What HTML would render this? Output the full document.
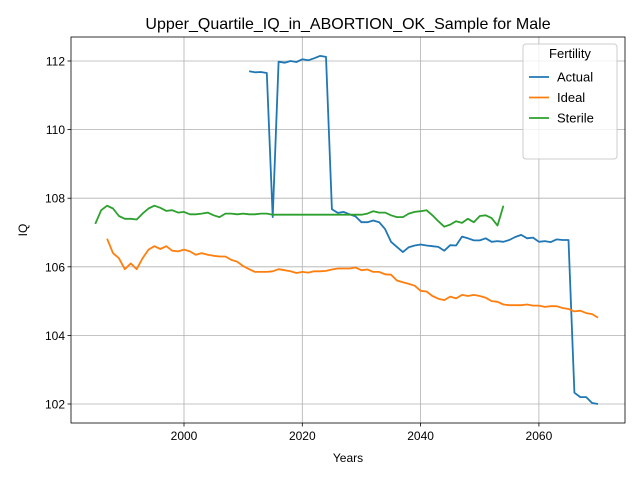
<!DOCTYPE html>
<html><head><meta charset="utf-8"><style>body{margin:0;background:#fff}svg{display:block;font-family:"Liberation Sans","DejaVu Sans",sans-serif}</style></head>
<body>
<svg id="chart" width="640" height="480">
<text x="348" y="29" font-size="16" text-anchor="middle">Upper_Quartile_IQ_in_ABORTION_OK_Sample for Male</text>
<g id="grid"></g><g id="series"></g><g id="axes"></g>
<text x="348" y="462" font-size="12" text-anchor="middle">Years</text>
<text x="27" y="230" font-size="12" text-anchor="middle" transform="rotate(-90 27 230)">IQ</text>
<g id="legend">
<rect x="523" y="44" width="94" height="115" rx="3" fill="#fff" fill-opacity="0.8" stroke="#ccc"/>
<text x="570" y="58" font-size="13" text-anchor="middle">Fertility</text>
</g>
</svg>
<script>
const actualStart=2011;
const actualValues=[111.7,111.67,111.68,111.65,107.45,111.98,111.95,112.0,111.97,112.05,112.02,112.08,112.15,112.12,107.68,107.57,107.6,107.53,107.47,107.3,107.3,107.35,107.3,107.1,106.73,106.58,106.43,106.57,106.62,106.65,106.62,106.6,106.58,106.47,106.63,106.62,106.88,106.83,106.77,106.77,106.83,106.73,106.75,106.73,106.78,106.87,106.93,106.83,106.85,106.73,106.75,106.72,106.8,106.78,106.78,102.33,102.2,102.2,102.03,102.0];
const idealStart=1987;
const idealValues=[106.82,106.4,106.25,105.93,106.1,105.93,106.25,106.5,106.6,106.52,106.6,106.47,106.45,106.5,106.45,106.35,106.4,106.35,106.32,106.3,106.3,106.2,106.15,106.02,105.93,105.85,105.85,105.85,105.87,105.93,105.9,105.87,105.82,105.85,105.83,105.87,105.87,105.88,105.92,105.95,105.95,105.95,105.98,105.9,105.92,105.85,105.85,105.78,105.77,105.6,105.55,105.5,105.45,105.3,105.28,105.15,105.07,105.03,105.13,105.08,105.18,105.15,105.18,105.15,105.1,105.0,104.98,104.9,104.88,104.88,104.88,104.9,104.87,104.87,104.83,104.85,104.85,104.8,104.77,104.7,104.72,104.65,104.62,104.52];
const sterileStart=1985;
const sterileValues=[107.25,107.65,107.78,107.7,107.48,107.4,107.4,107.38,107.55,107.7,107.78,107.72,107.63,107.65,107.58,107.6,107.53,107.53,107.55,107.58,107.5,107.45,107.55,107.55,107.53,107.55,107.53,107.53,107.55,107.55,107.52,107.52,107.52,107.52,107.52,107.52,107.52,107.52,107.52,107.52,107.52,107.52,107.52,107.52,107.52,107.52,107.55,107.62,107.58,107.58,107.5,107.45,107.45,107.55,107.6,107.62,107.65,107.5,107.33,107.17,107.23,107.33,107.28,107.4,107.3,107.48,107.5,107.42,107.2,107.78];
const xTicks=[2000,2020,2040,2060];
const yTicks=[102,104,106,108,110,112];
const seriesNames=["Actual","Ideal","Sterile"];
const colors=["#1f77b4","#ff7f0e","#2ca02c"];
const L=71,R=625,T=37,B=423;
const xs=y=>184+(y-2000)*5.915;
const ys=v=>61+(112-v)*34.3;
const NS="http://www.w3.org/2000/svg";
function mk(t,a,p){const e=document.createElementNS(NS,t);for(const k in a)e.setAttribute(k,a[k]);p.appendChild(e);return e;}
const grid=document.getElementById('grid'),axes=document.getElementById('axes'),ser=document.getElementById('series'),leg=document.getElementById('legend');
xTicks.forEach(t=>{const x=xs(t);
const g=mk('line',{x1:x,x2:x,y1:T,y2:B,stroke:'#b0b0b0','stroke-width':0.8},grid);


mk('line',{x1:x,x2:x,y1:B,y2:B+3.5,stroke:'#000','stroke-width':0.8},axes);
const tx=mk('text',{x:x,y:B+17,'font-size':12,'text-anchor':'middle'},axes);tx.textContent=t;

});
yTicks.forEach(t=>{const y=ys(t);
const g=mk('line',{x1:L,x2:R,y1:y,y2:y,stroke:'#b0b0b0','stroke-width':0.8},grid);


mk('line',{x1:L-3.5,x2:L,y1:y,y2:y,stroke:'#000','stroke-width':0.8},axes);
const tx=mk('text',{x:L-6,y:y+4.5,'font-size':12,'text-anchor':'end'},axes);tx.textContent=t;

});
const fr=mk('rect',{x:L,y:T,width:R-L,height:B-T,fill:'none',stroke:'#000','stroke-width':0.8},axes);


[[actualStart,actualValues],[idealStart,idealValues],[sterileStart,sterileValues]].forEach((s,i)=>{
const pts=s[1].map((v,j)=>xs(s[0]+j).toFixed(1)+','+ys(v).toFixed(1)).join(' ');
const pl=mk('polyline',{points:pts,fill:'none',stroke:colors[i],'stroke-width':1.8,'stroke-linejoin':'round'},ser);


const y=77+i*20.5;
const ll=mk('line',{x1:529,x2:549,y1:y,y2:y,stroke:colors[i],'stroke-width':1.8},leg);


const lt=mk('text',{x:557,y:y+4.5,'font-size':13},leg);lt.textContent=seriesNames[i];

});
</script>
</body></html>
